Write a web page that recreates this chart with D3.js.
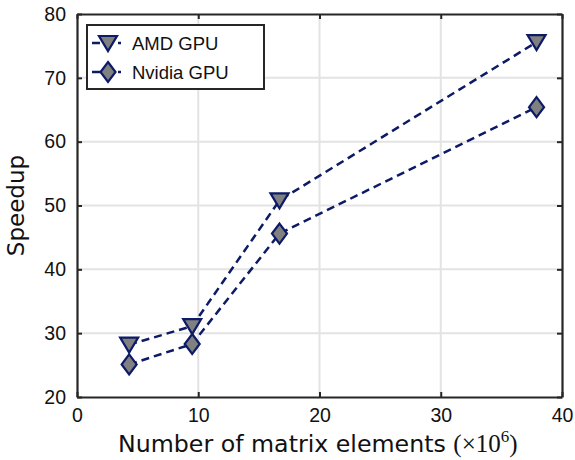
<!DOCTYPE html>
<html>
<head>
  <meta charset="utf-8">
  <title>Speedup</title>
  <script src="https://cdn.jsdelivr.net/npm/d3@7"></script>
</head>
<style>
  html, body { margin: 0; padding: 0; background: white; overflow: hidden }
  svg { display: block }
</style>
<body>
  <div id="chart"></div>
</body>
<script>
  // values
  const elements = [4.3, 9.5, 16.7, 37.9]   // x 10^6 matrix elements
  const amdSpeedup = [28.2, 31.1, 50.8, 75.6]
  const nvidiaSpeedup = [25.1, 28.3, 45.6, 65.4]
  const xTicks = [0, 10, 20, 30, 40]
  const yTicks = [20, 30, 40, 50, 60, 70, 80]
  const seriesNames = ['AMD GPU', 'Nvidia GPU']

  const W = 575, H = 460
  const m = { left: 77, right: 13, top: 14, bottom: 63 }
  const navy = '#0d1a66', frame = '#262626'

  const svg = d3.select('#chart').append('svg')
    .attr('width', W).attr('height', H)

  const x = d3.scaleLinear().domain([0, 40]).range([m.left, W - m.right])
  const y = d3.scaleLinear().domain([20, 80]).range([H - m.bottom, m.top])

  // grid
  const grid = svg.append('g').attr('stroke', '#e3e3e3').attr('stroke-width', 2)
  grid.selectAll('.gx').data(xTicks.slice(1, -1)).enter().append('line')
    .attr('x1', x).attr('x2', x).attr('y1', y(20)).attr('y2', y(80))
  grid.selectAll('.gy').data(yTicks.slice(1, -1)).enter().append('line')
    .attr('y1', y).attr('y2', y).attr('x1', x(0)).attr('x2', x(40))

  // series
  const series = [
    { name: seriesNames[0], vals: amdSpeedup, marker: 'tri' },
    { name: seriesNames[1], vals: nvidiaSpeedup, marker: 'dia' }
  ]
  const line = d3.line().x(d => x(d[0])).y(d => y(d[1]))

  function drawMarker(g, kind) {
    if (kind === 'tri') {
      g.append('path').attr('d', 'M-9,-7L9,-7L0,8Z')
    } else {
      g.append('path').attr('d', 'M0,-10L7.5,0L0,10L-7.5,0Z')
    }
    g.selectAll('path').attr('fill', '#808080').attr('stroke', navy)
      .attr('stroke-width', 2.2).attr('stroke-linejoin', 'miter')
  }

  series.forEach(s => {
    const pts = elements.map((e, i) => [e, s.vals[i]])
    svg.append('path').datum(pts).attr('d', line)
      .attr('fill', 'none').attr('stroke', navy).attr('stroke-width', 2.5)
      .attr('stroke-dasharray', '8,5')
    pts.forEach(p => {
      const g = svg.append('g').attr('transform', `translate(${x(p[0])},${y(p[1])})`)
      drawMarker(g, s.marker)
    })
  })

  // axes with inward ticks, box on
  const axisStyle = sel => {
    sel.selectAll('.domain').attr('stroke', frame).attr('stroke-width', 2.2)
    sel.selectAll('.tick line').attr('stroke', frame).attr('stroke-width', 2)
    sel.selectAll('text').attr('font-family', '"Liberation Sans", Arial, sans-serif')
      .attr('font-size', 19.5).attr('fill', '#111')
  }
  svg.append('g').attr('transform', `translate(0,${y(20)})`)
    .call(d3.axisBottom(x).tickValues(xTicks).tickSizeInner(-5).tickSizeOuter(0).tickPadding(11))
    .call(axisStyle)
  svg.append('g').attr('transform', `translate(0,${y(80)})`)
    .call(d3.axisTop(x).tickValues(xTicks).tickSizeInner(-5).tickSizeOuter(0).tickFormat(''))
    .call(axisStyle)
  svg.append('g').attr('transform', `translate(${x(0)},0)`)
    .call(d3.axisLeft(y).tickValues(yTicks).tickSizeInner(-5).tickSizeOuter(0).tickPadding(11))
    .call(axisStyle)
  svg.append('g').attr('transform', `translate(${x(40)},0)`)
    .call(d3.axisRight(y).tickValues(yTicks).tickSizeInner(-5).tickSizeOuter(0).tickFormat(''))
    .call(axisStyle)

  // axis labels
  svg.append('text')
    .attr('transform', `translate(24,${(y(20) + y(80)) / 2}) rotate(-90)`)
    .attr('text-anchor', 'middle')
    .attr('font-family', '"DejaVu Sans", sans-serif').attr('font-size', 23)
    .attr('fill', '#111').text('Speedup')

  const xl = svg.append('text')
    .attr('x', 118).attr('y', 452)
    .attr('font-family', '"DejaVu Sans", sans-serif').attr('font-size', 23.7)
    .attr('fill', '#111')
  xl.append('tspan').text('Number of matrix elements ')
  const ser = '"Liberation Serif", "DejaVu Serif", serif'
  xl.append('tspan').attr('font-family', ser).attr('font-size', 25).text('(×10')
  xl.append('tspan').attr('font-family', ser).attr('font-size', 17).attr('dy', -10).text('6')
  xl.append('tspan').attr('font-family', ser).attr('font-size', 25).attr('dy', 10).text(')')

  // legend
  const lg = svg.append('g')
  lg.append('rect').attr('x', 87).attr('y', 25).attr('width', 177).attr('height', 64)
    .attr('fill', 'white').attr('stroke', frame).attr('stroke-width', 2)
  series.forEach((s, i) => {
    const cy = 43 + i * 29
    lg.append('line').attr('x1', 92).attr('x2', 121).attr('y1', cy).attr('y2', cy)
      .attr('stroke', navy).attr('stroke-width', 2.5).attr('stroke-dasharray', '8,5')
    drawMarker(lg.append('g').attr('transform', `translate(108,${cy})`), s.marker)
    lg.append('text').attr('x', 132).attr('y', cy + 6.5)
      .attr('font-family', '"Liberation Sans", Arial, sans-serif').attr('font-size', 18.5)
      .attr('fill', '#111').text(s.name)
  })
</script>
</html>
